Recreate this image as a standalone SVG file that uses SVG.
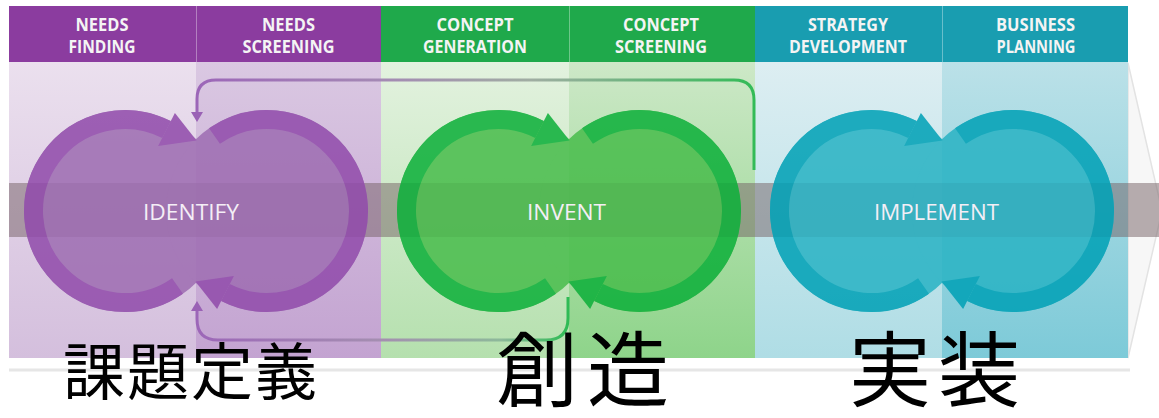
<svg xmlns="http://www.w3.org/2000/svg" width="1159" height="418" viewBox="0 0 1159 418">
<style>
.hdr{font-family:"Open Sans","Liberation Sans",sans-serif;font-weight:700;font-size:17.5px;fill:#f4f4f4;text-anchor:middle}
.lbl{font-family:"Open Sans","Liberation Sans",sans-serif;font-size:22px;fill:#f4eef6;text-anchor:middle}
.jp{font-family:"Liberation Sans","Noto Sans CJK JP","Noto Sans CJK SC",sans-serif;fill:#000}
.div{stroke:#ffffff;stroke-opacity:0.35;stroke-width:1}
.ring{fill:none;stroke-width:19}
.conn{fill:none;stroke-width:3}
#node-identify .f{fill:#9e6db2}
#node-identify .ring{stroke:#914bab}
#node-identify .head{fill:#914bab}
#node-invent .f{fill:#49bd4c}
#node-invent .ring{stroke:#0db03a}
#node-invent .head{fill:#0db03a}
#node-implement .f{fill:#29b3c4}
#node-implement .ring{stroke:#00a1b6}
#node-implement .head{fill:#00a1b6}
</style>
<defs>
<linearGradient id="g1" x1="0" y1="0" x2="0" y2="1"><stop offset="0" stop-color="#ebe0ee"/><stop offset="1" stop-color="#d4bfdd"/></linearGradient>
<linearGradient id="g2" x1="0" y1="0" x2="0" y2="1"><stop offset="0" stop-color="#dac8e2"/><stop offset="1" stop-color="#c3a3d1"/></linearGradient>
<linearGradient id="g3" x1="0" y1="0" x2="0" y2="1"><stop offset="0" stop-color="#e3f2df"/><stop offset="1" stop-color="#b5e0ae"/></linearGradient>
<linearGradient id="g4" x1="0" y1="0" x2="0" y2="1"><stop offset="0" stop-color="#cde8c7"/><stop offset="1" stop-color="#8ed48a"/></linearGradient>
<linearGradient id="g5" x1="0" y1="0" x2="0" y2="1"><stop offset="0" stop-color="#ddeef2"/><stop offset="1" stop-color="#afdde5"/></linearGradient>
<linearGradient id="g6" x1="0" y1="0" x2="0" y2="1"><stop offset="0" stop-color="#bbe1e8"/><stop offset="1" stop-color="#7dcad8"/></linearGradient>
<linearGradient id="cTop" gradientUnits="userSpaceOnUse" x1="196" y1="0" x2="754" y2="0"><stop offset="0" stop-color="#9c66b8"/><stop offset="0.33" stop-color="#a489b4"/><stop offset="0.6" stop-color="#a0ada2"/><stop offset="1" stop-color="#33bb57"/></linearGradient>
<linearGradient id="cBot" gradientUnits="userSpaceOnUse" x1="196" y1="0" x2="568" y2="0"><stop offset="0" stop-color="#9c66b8"/><stop offset="0.5" stop-color="#a48fb0"/><stop offset="0.82" stop-color="#8db99a"/><stop offset="1" stop-color="#2fbb55"/></linearGradient>
<marker id="ah" viewBox="0 0 10 12" refX="0" refY="6" markerWidth="10" markerHeight="12" markerUnits="userSpaceOnUse" orient="auto"><path d="M0,0 L10,6 L0,12 z" fill="#9a62b5"/></marker>
</defs>
<rect width="1159" height="418" fill="#ffffff"/>
<polygon points="1128,63 1162,211 1128,358" fill="#f7f7f7" stroke="#e3e3e3" stroke-width="1.5"/>
<line x1="9" y1="370" x2="1130" y2="370" stroke="#e6e6e6" stroke-width="3"/>
<g id="panels">
<rect x="9" y="62" width="187" height="296" fill="url(#g1)"/>
<rect x="196" y="62" width="185" height="296" fill="url(#g2)"/>
<rect x="381" y="62" width="188" height="296" fill="url(#g3)"/>
<rect x="569" y="62" width="186" height="296" fill="url(#g4)"/>
<rect x="755" y="62" width="187" height="296" fill="url(#g5)"/>
<rect x="942" y="62" width="186" height="296" fill="url(#g6)"/>
</g>
<g id="header">
<g id="hdr-needs-finding"><rect x="9" y="6" width="187" height="56" fill="#8b3c9f"/><text class="hdr" x="102" y="31" textLength="53" lengthAdjust="spacingAndGlyphs">NEEDS</text><text class="hdr" x="102" y="53" textLength="67" lengthAdjust="spacingAndGlyphs">FINDING</text></g>
<g id="hdr-needs-screening"><rect x="196" y="6" width="185" height="56" fill="#8b3c9f"/><text class="hdr" x="288.5" y="31" textLength="53" lengthAdjust="spacingAndGlyphs">NEEDS</text><text class="hdr" x="288.5" y="53" textLength="92" lengthAdjust="spacingAndGlyphs">SCREENING</text></g>
<g id="hdr-concept-generation"><rect x="381" y="6" width="188" height="56" fill="#1fa94b"/><text class="hdr" x="475" y="31" textLength="77" lengthAdjust="spacingAndGlyphs">CONCEPT</text><text class="hdr" x="475" y="53" textLength="104" lengthAdjust="spacingAndGlyphs">GENERATION</text></g>
<g id="hdr-concept-screening"><rect x="569" y="6" width="186" height="56" fill="#1fa94b"/><text class="hdr" x="661" y="31" textLength="76" lengthAdjust="spacingAndGlyphs">CONCEPT</text><text class="hdr" x="661" y="53" textLength="92" lengthAdjust="spacingAndGlyphs">SCREENING</text></g>
<g id="hdr-strategy-development"><rect x="755" y="6" width="187" height="56" fill="#199db0"/><text class="hdr" x="848" y="31" textLength="80" lengthAdjust="spacingAndGlyphs">STRATEGY</text><text class="hdr" x="848" y="53" textLength="118" lengthAdjust="spacingAndGlyphs">DEVELOPMENT</text></g>
<g id="hdr-business-planning"><rect x="942" y="6" width="186" height="56" fill="#199db0"/><text class="hdr" x="1035.5" y="31" textLength="79" lengthAdjust="spacingAndGlyphs">BUSINESS</text><text class="hdr" x="1036" y="53" textLength="79" lengthAdjust="spacingAndGlyphs">PLANNING</text></g>
<line class="div" x1="196.5" y1="6" x2="196.5" y2="62"/>
<line class="div" x1="569.5" y1="6" x2="569.5" y2="62"/>
<line class="div" x1="942.5" y1="6" x2="942.5" y2="62"/>
</g>
<rect id="band" x="9" y="183" width="1150" height="54" fill="#735f64" fill-opacity="0.5"/>
<g id="node-identify" transform="translate(196,211)" opacity="0.86">
<circle class="f" cx="-71" cy="0" r="101"/><circle class="f" cx="71" cy="0" r="101"/>
<path class="ring" d="M -18.5 75 A 91.5 91.5 0 1 1 -29.5 -81.5"/>
<polygon class="head" points="-21.1,-98 0.5,-70.5 -37.9,-65"/>
<path class="ring" d="M 18.5 -75 A 91.5 91.5 0 1 1 29.5 81.5"/>
<polygon class="head" points="21.1,98 -0.5,70.5 37.9,65"/>
</g>
<g id="node-invent" transform="translate(569,211)" opacity="0.86">
<circle class="f" cx="-71" cy="0" r="101"/><circle class="f" cx="71" cy="0" r="101"/>
<path class="ring" d="M -18.5 75 A 91.5 91.5 0 1 1 -29.5 -81.5"/>
<polygon class="head" points="-21.1,-98 0.5,-70.5 -37.9,-65"/>
<path class="ring" d="M 18.5 -75 A 91.5 91.5 0 1 1 29.5 81.5"/>
<polygon class="head" points="21.1,98 -0.5,70.5 37.9,65"/>
</g>
<g id="node-implement" transform="translate(942,211)" opacity="0.86">
<circle class="f" cx="-71" cy="0" r="101"/><circle class="f" cx="71" cy="0" r="101"/>
<path class="ring" d="M -18.5 75 A 91.5 91.5 0 1 1 -29.5 -81.5"/>
<polygon class="head" points="-21.1,-98 0.5,-70.5 -37.9,-65"/>
<path class="ring" d="M 18.5 -75 A 91.5 91.5 0 1 1 29.5 81.5"/>
<polygon class="head" points="21.1,98 -0.5,70.5 37.9,65"/>
</g>
<g id="node-labels">
<text class="lbl" x="191" y="220" textLength="96" lengthAdjust="spacingAndGlyphs">IDENTIFY</text>
<text class="lbl" x="566.5" y="220" textLength="79" lengthAdjust="spacingAndGlyphs">INVENT</text>
<text class="lbl" x="936.5" y="220" textLength="125" lengthAdjust="spacingAndGlyphs">IMPLEMENT</text>
</g>
<g id="connectors">
<path class="conn" stroke="url(#cTop)" d="M 754 170 V 100 Q 754 80 734 80 H 216 Q 197 80 197 99 V 112" marker-end="url(#ah)"/>
<path class="conn" stroke="url(#cBot)" d="M 568 297 V 318 Q 568 340 546 340 H 218 Q 197 340 197 319 V 311" marker-end="url(#ah)"/>
</g>
<g id="phase-labels">
<text class="jp" x="63" y="395" font-size="62" letter-spacing="2">課題定義</text>
<text class="jp" x="496" y="400" font-size="82" letter-spacing="9">創造</text>
<text class="jp" x="849" y="400" font-size="82" letter-spacing="7">実装</text>
</g>
</svg>
